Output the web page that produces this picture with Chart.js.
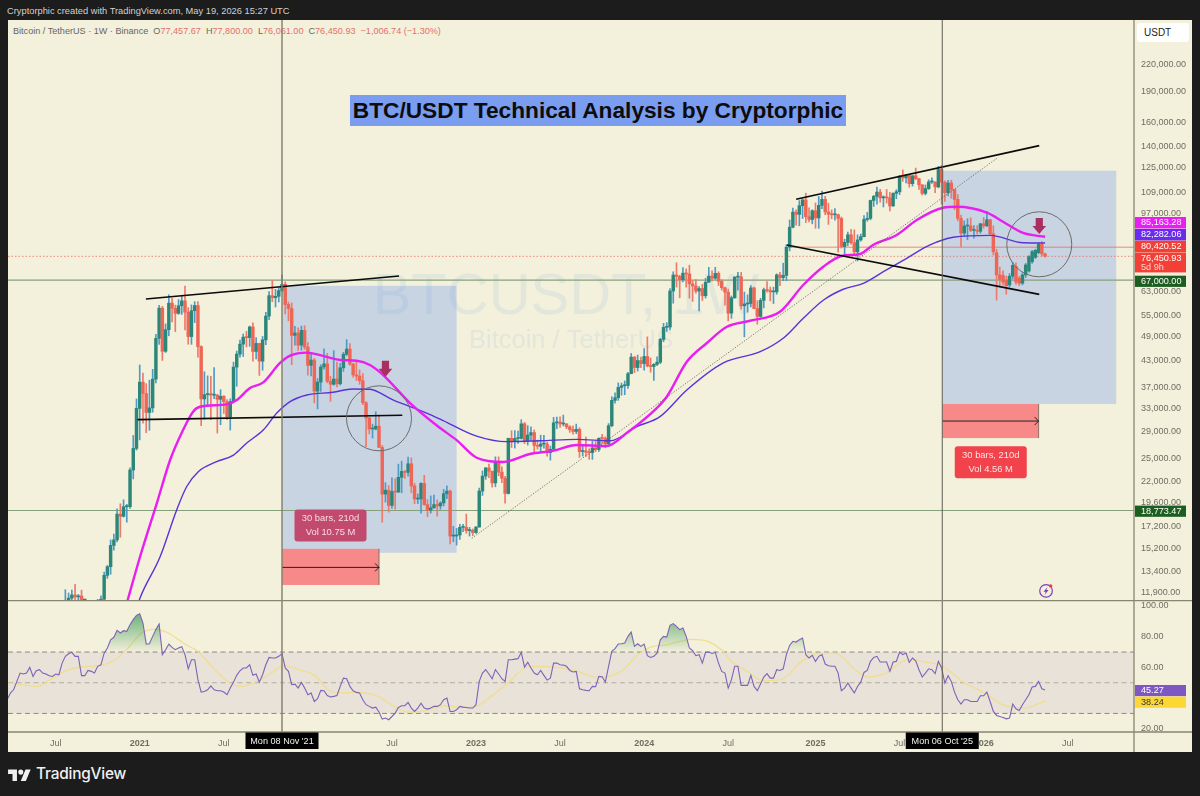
<!DOCTYPE html>
<html>
<head>
<meta charset="utf-8">
<title>BTC/USDT Technical Analysis by Cryptorphic</title>
<script src="https://cdn.jsdelivr.net/npm/chart.js@4/dist/chart.umd.min.js"></script>
<style>
html, body { margin: 0; padding: 0; background: #1c1c1c; width: 1200px; height: 796px; overflow: hidden; font-family: "Liberation Sans", sans-serif; }
#pane { position: absolute; left: 8px; top: 20px; width: 1184px; height: 732px; background: #f3f0db; }
canvas { position: absolute; left: 8px; z-index: 1; }
#head { position: absolute; left: 7px; top: 6px; font-size: 9.3px; color: #d2d2d2; white-space: nowrap; }
#legend { position: absolute; left: 13px; top: 26px; font-size: 9.1px; color: #666; white-space: nowrap; }
#legend b { font-weight: normal; color: #e4716a; margin-right: 5px; }
#title { position: absolute; z-index: 2; left: 350px; top: 95px; width: 496px; height: 31px; line-height: 31px; background: #7b9def; color: #0c0c0c; font-weight: bold; font-size: 22.7px; text-align: center; white-space: nowrap; }
#unit { position: absolute; z-index: 2; left: 1137px; top: 23px; width: 52px; height: 19px; line-height: 19px; background: #fff; border-radius: 3px; color: #222; font-size: 10px; text-indent: 7px; }
#logo { position: absolute; left: 8px; top: 767px; }
#brand { position: absolute; left: 36px; top: 764px; color: #f0f0f0; font-family: Inter, sans-serif; font-size: 15.4px; font-weight: 500; letter-spacing: -.2px; }
</style>
</head>
<body>
<div id="pane"></div>
<div id="head">Cryptorphic created with TradingView.com, May 19, 2026 15:27 UTC</div>
<div id="legend">Bitcoin / TetherUS · 1W · Binance &nbsp;O<b>77,457.67</b>H<b>77,800.00</b>L<b>76,061.00</b>C<b>76,450.93</b><b>−1,006.74 (−1.30%)</b></div>
<canvas id="chartPrice" width="1184" height="580" style="top:20px"></canvas>
<canvas id="chartRsi" width="1184" height="152" style="top:600px"></canvas>
<div id="title">BTC/USDT Technical Analysis by Cryptorphic</div>
<div id="unit">USDT</div>
<svg id="logo" width="23" height="14" viewBox="0 0 36 22"><path fill="#f0f0f0" d="M14 22H7V11H0V4h14v18zM28 22h-8l7.5-18h8L28 22z"/><circle fill="#f0f0f0" cx="20" cy="8" r="4"/></svg>
<div id="brand">TradingView</div>

<script>
"use strict";

// ---- Weekly candles, index 0 = Mon 27 Jul 2020 ----
const candleOpen = [
    9930,11050,11570,11770,11650,11710,10280,10330,11080,10770,
    10680,11370,11500,13120,13760,15480,15960,18400,18180,19170,
    19170,23480,26450,33000,38150,35830,32260,33090,38800,48580,
    57410,45240,50970,59020,57350,55780,58200,59770,56150,49070,
    56610,58240,46430,34770,35600,35800,35500,35500,34700,35290,
    34250,31520,34260,41460,44550,47060,48900,48800,51750,45200,
    47250,42850,48200,54950,61500,60850,61300,63270,65500,58600,
    57300,49400,50050,46800,50800,46300,41860,43100,36300,38150,
    41500,42200,38350,37700,38800,37800,41300,44500,45800,42150,
    39700,39450,38450,34050,31300,29450,29450,29900,26600,20550,
    21000,19300,20850,20780,22550,23300,23170,24300,21500,20000,
    20000,21800,19400,18800,19050,19400,19250,19570,20600,20900,
    16300,16300,16400,17100,17100,16800,16830,16620,17130,20900,
    22700,23750,23320,21860,24600,23200,22430,20630,27970,27480,
    27940,27950,30300,27590,28480,28870,26900,26770,27100,27100,
    25850,26330,30470,30600,30280,30300,29800,29350,29050,29400,
    26000,26100,25900,25850,26530,26300,27970,27950,27150,29990,
    34500,35000,37050,37400,37450,39970,43800,41350,42980,42280,
    43950,41700,41600,42100,42600,48300,51650,51730,63100,68950,
    68400,67200,69650,69350,65650,64900,63100,64000,61480,66250,
    68500,67750,69600,66600,64250,62700,55850,60800,68150,68250,
    58150,58750,58900,64200,57300,54850,59950,63550,63300,62800,
    62800,69000,67950,68800,80400,89800,97600,96400,101100,104400,
    95150,93700,98350,94500,101300,104700,97700,96450,96150,96250,
    94250,80700,82600,86100,82400,78350,83700,85200,93750,94300,
    104100,106450,109000,105600,105700,105600,101000,108300,109200,119100,
    117900,119400,114200,119300,117400,113500,108250,111150,115300,115300,
    112200,123500,115100,108650,114600,110600,104700,94300,86900,90400,
    90400,88200,88300,87800,91500,90500,93600,86600,78000,69000,
    68800,67000,65250,68500,72300,67700,65900,69000,70500,74200,
    76000,78000,81700,77457.67
];
const candleHigh = [
    12120,11900,12100,12490,11800,12090,10580,11180,11180,10950,
    11490,11720,13350,13860,15960,16480,18950,19480,19920,19420,
    23770,28420,34780,41950,40100,37850,38570,40950,49700,58350,
    58000,52640,61840,60600,58400,60200,61300,64850,57570,58460,
    59500,59500,46640,40400,39500,39380,41330,35700,36600,35400,
    34660,34800,42600,45300,48150,49780,50500,52000,52920,48800,
    47300,49100,56100,62900,67000,63700,64270,69000,66400,59400,
    59100,51950,51500,52000,52100,47500,44500,43500,38900,42000,
    45850,44750,39400,45400,42600,42300,45000,48250,47200,42400,
    42950,40800,40000,34250,31400,30250,32400,31800,26900,21900,
    21550,22500,22350,24250,24650,23450,25200,25100,21800,20580,
    21900,22800,19950,20350,20450,19900,19700,21100,21500,21000,
    17200,17000,17400,17400,18400,17100,16950,17180,21250,23370,
    23800,24250,23350,25250,25250,23900,22670,28000,29180,29200,
    29100,31000,30550,30000,29800,29300,27700,28450,28450,27400,
    26800,31400,31450,31500,31800,30350,30000,29980,30250,29650,
    26800,28150,26400,27500,27500,28050,28600,28200,30350,35200,
    35950,38000,37950,38400,40250,44700,44000,44300,43800,45900,
    49000,43600,42250,43900,48600,52800,53000,64000,70200,73780,
    68900,71800,71300,72800,66900,67200,64700,65500,67700,71950,
    70600,71950,70200,67200,64500,63800,61400,68350,70000,70000,
    62750,61800,65000,64500,59800,60650,64150,66500,64500,64500,
    69400,70000,73600,81500,93450,99800,98800,104000,105000,108350,
    99950,98900,102700,106400,109600,106500,102500,98800,99500,96500,
    95000,84000,87450,88800,88500,86100,86500,95800,97450,104350,
    107100,112000,110700,106800,110600,108900,108500,110500,119500,123200,
    120250,119800,119400,124500,117600,113500,113400,116700,117900,115400,
    125700,126200,116000,116400,116400,110800,107500,96000,93000,94100,
    94600,90600,90600,91800,94800,97900,93800,90500,79500,72000,
    70600,68500,69500,74000,73800,68500,69800,73500,76800,79000,
    79500,82500,83000,77800
];
const candleLow = [
    9880,10950,11120,11280,11120,9800,9820,10200,10130,10370,
    10530,11180,11410,12900,13200,15080,15770,16190,18100,17600,
    19000,22350,26200,27730,30420,28850,29240,32300,37990,47000,
    43000,44950,49280,53200,50430,55500,55470,50930,47050,47000,
    53000,43820,30000,31100,33380,31000,34800,28800,30150,32080,
    31020,29280,34000,37300,43800,43950,46370,46500,42840,43400,
    39600,40750,46900,53900,59500,57800,59400,62800,55600,53500,
    42000,46800,45450,45500,45700,39650,39500,34000,32900,36250,
    41000,38000,34300,37500,37150,37550,40500,44200,41870,39200,
    38500,37700,33700,26700,28650,28000,29300,26550,17600,19650,
    18600,19000,18900,20750,20700,22400,22700,20700,19500,19500,
    18500,19300,18150,18500,19000,18200,18900,19250,20050,15600,
    15800,15500,16000,16700,16550,16300,16330,16530,17130,20400,
    22300,22500,21350,21400,22750,21900,19550,20550,26600,26500,
    27200,27850,27150,26950,27650,25800,26350,25900,26500,25350,
    24800,26300,29500,29700,29950,29500,28900,28600,28700,25170,
    25350,25300,24900,24900,26000,26000,27150,26550,26950,29800,
    33950,34500,35500,35600,36850,39950,40200,40550,41300,40750,
    41500,40300,38500,41800,42250,47700,50500,50900,59000,64500,
    60800,66400,64500,60660,59600,62400,56550,59900,60700,66200,
    66700,67300,65050,63400,58400,53500,54250,60600,63400,57100,
    49000,56150,57800,57200,52550,54600,57500,62700,59800,58900,
    62000,65000,66800,66800,78800,89400,90800,90500,94200,92100,
    92500,91500,89250,89250,99500,96200,91200,94100,93400,78250,
    80000,76600,81100,81600,77000,74500,83100,85100,92800,93500,
    100700,102000,103100,100400,102600,98200,100700,105100,107500,115700,
    114700,112000,112650,116800,110700,107300,107300,110600,114400,108600,
    111600,102000,103500,106700,105300,98900,93000,80600,85250,83800,
    87600,84500,86400,86800,89300,90000,86000,77000,60000,65000,
    65200,62000,64500,67500,65500,65000,65300,68000,70000,73500,
    75500,77500,76500,76061
];
const candleClose = [
    11050,11570,11770,11650,11710,10280,10330,11080,10770,10680,
    11370,11500,13120,13760,15480,15960,18400,18180,19170,19170,
    23480,26450,33000,38150,35830,32260,33090,38800,48580,57410,
    45240,50970,59020,57350,55780,58200,59770,56150,49070,56610,
    58240,46430,34770,35600,35800,35500,35500,34700,35290,34250,
    31520,34260,41460,44550,47060,48900,48800,51750,45200,47250,
    42850,48200,54950,61500,60850,61300,63270,65500,58600,57300,
    49400,50050,46800,50800,46300,41860,43100,36300,38150,41500,
    42200,38350,37700,38800,37800,41300,44500,45800,42150,39700,
    39450,38450,34050,31300,29450,29450,29900,26600,20550,21000,
    19300,20850,20780,22550,23300,23170,24300,21500,20000,20000,
    21800,19400,18800,19050,19400,19250,19570,20600,20900,16300,
    16300,16400,17100,17100,16800,16830,16620,17130,20900,22700,
    23750,23320,21860,24600,23200,22430,20630,27970,27480,27940,
    27950,30300,27590,28480,28870,26900,26770,27100,27100,25850,
    26330,30470,30600,30280,30300,29800,29350,29050,29400,26000,
    26100,25900,25850,26530,26300,27970,27950,27150,29990,34500,
    35000,37050,37400,37450,39970,43800,41350,42980,42280,43950,
    41700,41600,42100,42600,48300,51650,51730,63100,68950,68400,
    67200,69650,69350,65650,64900,63100,64000,61480,66250,68500,
    67750,69600,66600,64250,62700,55850,60800,68150,68250,58150,
    58750,58900,64200,57300,54850,59950,63550,63300,62800,62800,
    69000,67950,68800,80400,89800,97600,96400,101100,104400,95150,
    93700,98350,94500,101300,104700,97700,96450,96150,96250,94250,
    80700,82600,86100,82400,78350,83700,85200,93750,94300,104100,
    106450,109000,105600,105700,105600,101000,108300,109200,119100,117900,
    119400,114200,119300,117400,113500,108250,111150,115300,115300,112200,
    123500,115100,108650,114600,110600,104700,94300,86900,90400,90400,
    88200,88300,87800,91500,90500,93600,86600,78400,69000,67300,
    66300,65000,68500,72700,66300,65900,69000,72900,76300,78400,
    79000,81700,77457.67,76450.93
];

// ---- Moving averages, read at the bends of each curve ----
const fastMaIdx = [18.5,23.1,28.3,32.4,36.4,39.5,41.6,49.9,53,57.1,61.1,66.4,69.5,74.7,80.8,85,90.1,94.2,98.3,106.6,115.9,121,127.2,135.4,143.7,150.8,158.2,167.4,173.6,182.9,186,192.2,198.4,204.6,211.8,221,228.2,234.4,240.1,245.8,249.8,257.1,263.3,271.5,275.7,285,290,296.2,303];
const fastMaVal = [10900,14540,19560,24810,29280,32400,33300,33750,34570,36920,38040,42410,44150,44900,43850,43120,42950,41950,39670,33980,29600,27700,25120,24550,25650,26100,26960,26800,28800,33060,35200,42700,47360,51800,53550,56300,65250,72200,76600,77450,81400,86000,93450,100000,100500,97300,92550,86970,85163.28];
const slowMaIdx = [22,23.1,29.3,34.4,37.5,41.1,46.8,52,56.1,61.2,65.4,69.5,74.7,82.8,88.8,94.2,101.3,111.7,115.9,127.2,136.5,146.8,158.2,168.5,176.7,183.9,192.2,203.5,214.9,222.1,228.3,234.5,240.6,246.8,253,260.2,267.4,274.6,286,296.2,303];
const slowMaVal = [10900,11580,14540,18810,21400,23260,24580,25500,27260,29280,32160,34260,35530,36080,36740,36670,34570,32160,31110,28310,27460,27590,27810,27590,29830,31530,36520,42420,45140,48690,54360,60060,63730,65870,70220,75610,81400,84920,85840,82410,82282.06];

// ---- RSI, one value per week from index -18 ----
const rsiStart = -18;
const rsiValues = [
    38.9,43.3,45.4,50.9,56.3,55.7,56.3,60,54.1,57.8,
    58.5,56.3,55.7,54.6,54.1,55.7,55.2,62.8,67.2,68.9,
    69.8,67.2,67.2,54.6,54.6,58,57.4,56.3,60.7,61.7,
    69.3,72.6,78,79.6,84.1,82.4,83.9,83.5,87.8,91.1,
    93.9,95,88.9,75.2,75.4,80.2,84.6,88.3,68.3,71.5,
    75.2,73,71.5,72.6,73.5,68.3,59.1,65,65,52,
    43.9,44.3,45.4,48,45.4,44.8,44.8,43.9,42.2,46.5,
    50.4,54.8,57.8,59.6,59.6,61.7,54.8,55.7,50.4,55.2,
    61.7,66.5,66.1,66.1,67.2,68.9,59.6,57.4,48.7,49.1,
    46.5,50.2,46.5,42.2,43.3,37.8,39.6,45,44.8,41.7,
    40.7,41.1,41.7,47.6,53,52.6,47.6,44.8,43.7,
    43.3,38.9,35.7,34.6,33.5,34.1,30.9,26.3,27,25.9,
    28,30.2,33.9,35,35,37.2,33.5,31.3,33.5,36.7,
    33.5,32.8,33.5,34.6,34.6,35.7,38.9,40,31.3,31.3,
    32.4,34.6,34.1,33.9,33.5,33.5,35.7,50.9,56.3,58.5,
    55.7,52.6,58.5,55.7,52.6,50.9,65,65,65.4,65.7,
    69.8,60.2,63.3,59.6,56.3,55.2,58,54.8,51.7,53,
    62.8,62.8,61.7,61.5,60.7,58,57,57.4,46.1,45.4,
    45,44.8,47.6,47.4,54.1,53.9,50.4,60.7,70.4,72.2,
    75.2,75.4,75.9,80.2,83,73.7,75.4,73.7,75.2,67.6,
    66.5,67.2,69.3,78,80.2,79.8,87.4,88.5,86.7,84.6,
    85.7,80.2,72.6,70.9,67.6,68.3,62.8,69.8,
    70,69.1,69.8,62.8,57.4,56.3,46.5,52,60.7,60.7,
    48.3,48.3,48.3,54.8,47.6,44.8,49.1,53.7,55.9,53,
    53,58.5,58,59.1,68.3,74.3,77,76.5,78,79.1,
    68.3,66.1,67.8,63.9,67.2,68.3,62.2,61.1,60.7,60.7,
    56.3,44.8,46.5,49.8,46.5,43.3,47.6,50.4,56.7,58,
    63.9,66.5,67.2,63.5,63.5,63.5,57.4,63.5,63.9,70,
    68.3,69.3,63.3,66.1,64.3,58.5,53.7,56.3,59.1,58.5,
    55.9,63.9,59.6,49.8,54.6,50.9,43.9,38.9,36.1,38.9,
    38.9,37.8,37.8,37.8,41.5,41.5,43.9,37.8,31.3,28.7,
    28,27.4,26.5,27,36.1,33,31.9,35.7,38.9,42.2,
    47.2,47.6,50.9,46.1,45.27
];
const rsiMaIdx = [-18,-12.5,-8.4,-5.3,-0.2,5,10.1,15.3,19.4,23.5,27.7,31.8,36.9,41,46.2,50.8,54.5,59.6,63.7,67.3,73,77.1,81.3,85.4,90.5,96.7,100.8,106,111.1,117.3,123.5,126.6,131.7,136.9,142,145.1,151.3,157.5,164.7,171.9,177.1,181.2,186.4,193.6,198.7,202.9,206,210.1,215.8,221.5,227.7,233.9,238,244.2,248.3,253.4,260.7,265.8,271,278.2,284.4,289.5,296.7,303];
const rsiMaVal = [49.8,48.5,47.6,51.3,57.4,60.4,61,65,72.6,82.4,84.8,82.4,75.2,70.4,58.5,49.8,47.6,51.3,56.3,61,58,54.8,45.4,43.3,43.7,41.1,35.7,30.9,31.7,35,33.9,34.3,41.1,49.8,59.6,60.7,60.2,58,53.5,57.4,68.3,73.3,74.8,78.3,77,71.5,63.9,58.5,51.3,52,63.9,69.3,69.3,58.5,53.7,55.9,65,63.5,61,49.8,43.3,36.1,33.5,38.24];

// ---- Axis ticks ----
const priceTicks = [220000,190000,160000,140000,125000,109000,97000,63000,55000,49000,43000,37000,33000,29000,25000,22000,19600,17200,15200,13400,11900];
const rsiTicks = [100,80,60,20];
const rsiLevels = [70,50,30];
const timeTickIdx = [-3,23,49,75,101,127,153,179,205,232,258,284,310];
const timeTickLabels = ["Jul","2021","Jul","2022","Jul","2023","Jul","2024","Jul","2025","Jul","2026","Jul"];

// ---- Drawings on the chart, in week index and price ----
const crossIdx = [67, 271.2];
const crossLabels = ["Mon 08 Nov '21", "Mon 06 Oct '25"];
const rangeBoxes = [[67,121,64950,14860],[271.2,325,122700,33810]];
const redBoxes = [[67,97,15190,12440,13710],[271.2,301,33810,28010,30770]];
const trendLines = [[24.9,60390,103.2,68570],[22.3,31000,104.2,31770],[226,104770,301.2,140870],[223.1,81380,301.2,61970]];
const dottedTrend = [125.7,16100,288.1,131400];
const supportLevels = [67000, 18773.47];
const lastPrice = 76450.93;
const weeklyOpenLevel = 80420.52;
const circleMarks = [[97,31240],[301.2,81700]];
const downArrows = [[99,42950],[301.2,94490]];
const statLabels = [
    { idx: 82, price: 17290, lines: ["30 bars, 210d", "Vol 10.75 M"], fill: "#c24a6e", ink: "#f8dde2" },
    { idx: 286.2, price: 24490, lines: ["30 bars, 210d", "Vol 4.56 M"], fill: "#f2434c", ink: "#fde4e2" },
];
const priceTags = [
    { value: 85163.28, top: 217, h: 11.5, fill: "#e620f2", ink: "#fff" },
    { value: 82282.06, top: 229, h: 11.5, fill: "#6a2bf0", ink: "#fff" },
    { value: 80420.52, top: 240.8, h: 11.5, fill: "#f43f36", ink: "#fff" },
    { value: 76450.93, top: 252.6, h: 19.8, fill: "#f43f36", ink: "#fff", sub: "5d 9h" },
    { value: 67000, top: 275.7, h: 11.2, fill: "#1b5e20", ink: "#fff" },
    { value: 18773.47, top: 505.6, h: 11.2, fill: "#1b5e20", ink: "#fff" },
];
const rsiTags = [
    { value: 45.27, top: 85, h: 11.2, fill: "#7e57c2", ink: "#fff" },
    { value: 38.24, top: 96.6, h: 11.2, fill: "#fdd835", ink: "#333" },
];

const COLORS = {
    upBody: "#2c8778",
    upWick: "#4f9bc6",
    downBody: "#ee6656",
    downWick: "#ee7a69",
    fastMa: "#e81ff0",
    slowMa: "#5a32d8",
    rsi: "#7e62b8",
    rsiMa: "#f0de8e",
    axisText: "#6f6e62",
    axisLine: "#87866f",
    support: "#86a07c",
    range: "#c9d4e3",
    band: "#e8e2d8",
};

const X_MIN = -17.74;
const X_MAX = 330.5;
const AXIS_WIDTH = 58;
const TICK_FONT = { family: "'Liberation Sans', sans-serif", size: 9 };

const fmt = (v) => v.toLocaleString("en-US", { minimumFractionDigits: 2, maximumFractionDigits: 2 });

function fitYAxis(scale) {
    scale.width = AXIS_WIDTH;
    scale.paddingTop = 0;
    scale.paddingBottom = 0;
}

function drawTags(ctx, x, tags) {
    ctx.textAlign = "left";
    ctx.textBaseline = "middle";
    tags.forEach(function (t) {
        ctx.fillStyle = t.fill;
        ctx.fillRect(x + 1, t.top, 51, t.h);
        ctx.fillStyle = t.ink;
        ctx.font = "9.1px 'Liberation Sans', sans-serif";
        ctx.fillText(fmt(t.value), x + 7, t.top + (t.sub ? 5.6 : t.h / 2));
        if (t.sub) {
            ctx.fillStyle = "#fbd3cf";
            ctx.fillText(t.sub, x + 7, t.top + 14.6);
        }
    });
}

function drawCrossLines(chart) {
    const { ctx, scales, chartArea } = chart;
    crossIdx.forEach(function (idx, n) {
        const x = scales.x.getPixelForValue(idx);
        ctx.strokeStyle = n === 0 ? "#7f7d69" : "#5f5e55";
        ctx.lineWidth = n === 0 ? 1.4 : 1;
        ctx.beginPath();
        ctx.moveTo(x, chartArea.top);
        ctx.lineTo(x, chartArea.bottom);
        ctx.stroke();
    });
}

// ---- Everything under the candles on the price pane ----
const priceBackdrop = {
    id: "priceBackdrop",
    beforeDatasetsDraw(chart) {
        const { ctx, scales, chartArea } = chart;
        const px = (i) => scales.x.getPixelForValue(i);
        const py = (p) => scales.y.getPixelForValue(p);
        ctx.save();

        rangeBoxes.forEach(function (b) {
            ctx.fillStyle = COLORS.range;
            ctx.fillRect(px(b[0]), py(b[2]), px(b[1]) - px(b[0]), py(b[3]) - py(b[2]));
        });

        // watermark
        ctx.textAlign = "center";
        ctx.textBaseline = "middle";
        ctx.fillStyle = "rgba(90,150,215,.10)";
        ctx.font = "58px 'Liberation Sans', sans-serif";
        ctx.fillText("BTCUSDT, 1W", 558, 278);
        ctx.font = "25.5px 'Liberation Sans', sans-serif";
        ctx.fillText("Bitcoin / TetherUS", 563, 321);

        // horizontal levels
        ctx.lineWidth = 1.2;
        ctx.strokeStyle = COLORS.support;
        supportLevels.forEach(function (level) {
            ctx.beginPath();
            ctx.moveTo(chartArea.left, py(level));
            ctx.lineTo(chartArea.right, py(level));
            ctx.stroke();
        });
        ctx.lineWidth = 1;
        ctx.strokeStyle = "rgba(232,100,90,.75)";
        ctx.beginPath();
        ctx.moveTo(px(224), py(weeklyOpenLevel));
        ctx.lineTo(chartArea.right, py(weeklyOpenLevel));
        ctx.stroke();
        ctx.setLineDash([1.5, 2]);
        ctx.beginPath();
        ctx.moveTo(chartArea.left, py(lastPrice));
        ctx.lineTo(chartArea.right, py(lastPrice));
        ctx.stroke();
        ctx.setLineDash([]);

        // measured-move boxes
        redBoxes.forEach(function (b) {
            ctx.fillStyle = "#f78a88";
            ctx.fillRect(px(b[0]), py(b[2]), px(b[1]) - px(b[0]), py(b[3]) - py(b[2]));
            ctx.strokeStyle = "#8d6f68";
            ctx.beginPath();
            ctx.moveTo(px(b[1]), py(b[2]));
            ctx.lineTo(px(b[1]), py(b[3]));
            ctx.stroke();
            ctx.strokeStyle = "#222";
            ctx.beginPath();
            ctx.moveTo(px(b[0]), py(b[4]));
            ctx.lineTo(px(b[1]), py(b[4]));
            ctx.moveTo(px(b[1]) - 4, py(b[4]) - 4);
            ctx.lineTo(px(b[1]), py(b[4]));
            ctx.lineTo(px(b[1]) - 4, py(b[4]) + 4);
            ctx.stroke();
        });
        ctx.restore();
    },
    afterDatasetsDraw(chart) {
        const { ctx, scales } = chart;
        const px = (i) => scales.x.getPixelForValue(i);
        const py = (p) => scales.y.getPixelForValue(p);
        ctx.save();

        // dotted long-term trend
        ctx.strokeStyle = "#55554c";
        ctx.lineWidth = 0.8;
        ctx.setLineDash([1.2, 1.6]);
        ctx.beginPath();
        ctx.moveTo(px(dottedTrend[0]), py(dottedTrend[1]));
        ctx.lineTo(px(dottedTrend[2]), py(dottedTrend[3]));
        ctx.stroke();
        ctx.setLineDash([]);

        // solid black trend lines
        ctx.strokeStyle = "#0b0b0b";
        ctx.lineWidth = 1.7;
        trendLines.forEach(function (t) {
            ctx.beginPath();
            ctx.moveTo(px(t[0]), py(t[1]));
            ctx.lineTo(px(t[2]), py(t[3]));
            ctx.stroke();
        });

        // circles
        ctx.strokeStyle = "#6d6d68";
        ctx.lineWidth = 1;
        circleMarks.forEach(function (c) {
            ctx.beginPath();
            ctx.arc(px(c[0]), py(c[1]), 32.5, 0, Math.PI * 2);
            ctx.stroke();
        });

        // maroon down arrows
        ctx.fillStyle = "#a82f60";
        downArrows.forEach(function (a) {
            const x = px(a[0]);
            const y = py(a[1]);
            ctx.beginPath();
            ctx.moveTo(x - 3.6, y);
            ctx.lineTo(x + 3.6, y);
            ctx.lineTo(x + 3.6, y + 8);
            ctx.lineTo(x + 6.8, y + 8);
            ctx.lineTo(x, y + 16);
            ctx.lineTo(x - 6.8, y + 8);
            ctx.lineTo(x - 3.6, y + 8);
            ctx.closePath();
            ctx.fill();
        });

        // stat labels
        ctx.textAlign = "center";
        ctx.textBaseline = "middle";
        statLabels.forEach(function (s) {
            const x = px(s.idx);
            const y = py(s.price);
            ctx.fillStyle = s.fill;
            ctx.beginPath();
            ctx.roundRect(x - 36, y - 16, 72, 32, 3);
            ctx.fill();
            ctx.fillStyle = s.ink;
            ctx.font = "9.4px 'Liberation Sans', sans-serif";
            ctx.fillText(s.lines[0], x, y - 7);
            ctx.fillText(s.lines[1], x, y + 7.5);
        });

        // alert icon near the last bar
        const ix = px(303.3);
        const iy = py(12040);
        ctx.strokeStyle = "#7a3fb5";
        ctx.lineWidth = 1.2;
        ctx.beginPath();
        ctx.arc(ix, iy, 6.3, 0, Math.PI * 2);
        ctx.stroke();
        ctx.fillStyle = "#7a3fb5";
        ctx.beginPath();
        ctx.moveTo(ix + 1.5, iy - 4);
        ctx.lineTo(ix - 2.5, iy + 0.8);
        ctx.lineTo(ix - 0.3, iy + 0.8);
        ctx.lineTo(ix - 1.5, iy + 4);
        ctx.lineTo(ix + 2.5, iy - 0.8);
        ctx.lineTo(ix + 0.3, iy - 0.8);
        ctx.closePath();
        ctx.fill();
        ctx.fillStyle = "#f0384a";
        ctx.beginPath();
        ctx.arc(ix + 4.6, iy - 5, 1.7, 0, Math.PI * 2);
        ctx.fill();

        drawCrossLines(chart);
        ctx.restore();
    },
    afterDraw(chart) {
        const { ctx, chartArea } = chart;
        ctx.save();
        ctx.strokeStyle = COLORS.axisLine;
        ctx.lineWidth = 1.3;
        ctx.beginPath();
        ctx.moveTo(chartArea.right, chartArea.top);
        ctx.lineTo(chartArea.right, chartArea.bottom);
        ctx.stroke();
        drawTags(ctx, chartArea.right, priceTags.map((t) => Object.assign({}, t, { top: t.top - 20 })));
        ctx.restore();
    },
};

// ---- RSI pane: band, levels, crosshair labels, value tags ----
const rsiBackdrop = {
    id: "rsiBackdrop",
    beforeDatasetsDraw(chart) {
        const { ctx, scales, chartArea } = chart;
        const py = (v) => scales.y.getPixelForValue(v);
        ctx.save();
        ctx.fillStyle = COLORS.band;
        ctx.fillRect(chartArea.left, py(rsiLevels[0]), chartArea.width, py(rsiLevels[2]) - py(rsiLevels[0]));
        ctx.strokeStyle = "#8f897c";
        ctx.lineWidth = 1;
        ctx.setLineDash([5, 3.5]);
        rsiLevels.forEach(function (level, n) {
            ctx.globalAlpha = n === 1 ? 0.6 : 1;
            ctx.beginPath();
            ctx.moveTo(chartArea.left, py(level));
            ctx.lineTo(chartArea.right, py(level));
            ctx.stroke();
        });
        ctx.restore();
    },
    afterDatasetsDraw(chart) {
        const { ctx } = chart;
        ctx.save();
        drawCrossLines(chart);
        ctx.restore();
    },
    afterDraw(chart) {
        const { ctx, scales, chartArea, width, height } = chart;
        ctx.save();
        ctx.strokeStyle = COLORS.axisLine;
        ctx.lineWidth = 1.3;
        ctx.beginPath();
        ctx.moveTo(chartArea.left, 0.5);
        ctx.lineTo(width, 0.5);
        ctx.moveTo(chartArea.left, chartArea.bottom);
        ctx.lineTo(width, chartArea.bottom);
        ctx.moveTo(chartArea.right, 0);
        ctx.lineTo(chartArea.right, height);
        ctx.stroke();

        ctx.textAlign = "center";
        ctx.textBaseline = "middle";
        ctx.font = "9.1px 'Liberation Sans', sans-serif";
        crossIdx.forEach(function (idx, n) {
            const x = scales.x.getPixelForValue(idx);
            ctx.fillStyle = "#000";
            ctx.fillRect(x - 36.5, chartArea.bottom + 0.5, 73, 16.5);
            ctx.fillStyle = "#f2f2f2";
            ctx.fillText(crossLabels[n], x, chartArea.bottom + 9.5);
        });
        drawTags(ctx, chartArea.right, rsiTags);
        ctx.restore();
    },
};

function candleColors(up, down) {
    return candleClose.map((c, i) => (c >= candleOpen[i] ? up : down));
}

function initPriceChart() {
    new Chart(document.getElementById("chartPrice"), {
        type: "bar",
        data: {
            datasets: [
                {
                    type: "line",
                    data: fastMaIdx.map((x, i) => ({ x, y: fastMaVal[i] })),
                    borderColor: COLORS.fastMa,
                    borderWidth: 2.4,
                    pointRadius: 0,
                    cubicInterpolationMode: "monotone",
                    order: 0,
                },
                {
                    type: "line",
                    data: slowMaIdx.map((x, i) => ({ x, y: slowMaVal[i] })),
                    borderColor: COLORS.slowMa,
                    borderWidth: 1.4,
                    pointRadius: 0,
                    cubicInterpolationMode: "monotone",
                    order: 0,
                },
                {
                    data: candleOpen.map((o, i) => ({ x: i, y: [o, candleClose[i]] })),
                    backgroundColor: candleColors(COLORS.upBody, COLORS.downBody),
                    barThickness: 2.8,
                    minBarLength: 1,
                    grouped: false,
                    order: 1,
                },
                {
                    data: candleLow.map((l, i) => ({ x: i, y: [l, candleHigh[i]] })),
                    backgroundColor: candleColors(COLORS.upWick, COLORS.downWick),
                    barThickness: 1,
                    grouped: false,
                    order: 2,
                },
            ],
        },
        options: {
            responsive: false,
            animation: false,
            layout: { padding: 0 },
            plugins: { legend: { display: false }, tooltip: { enabled: false } },
            scales: {
                x: { type: "linear", display: false, min: X_MIN, max: X_MAX, offset: false },
                y: {
                    type: "logarithmic",
                    position: "right",
                    min: 11449,
                    max: 282100,
                    bounds: "data",
                    grid: { display: false, drawTicks: false },
                    border: { display: false },
                    afterBuildTicks(scale) {
                        scale.ticks = priceTicks.map((value) => ({ value }));
                    },
                    afterFit: fitYAxis,
                    ticks: {
                        autoSkip: false,
                        padding: 7,
                        color: COLORS.axisText,
                        font: TICK_FONT,
                        callback: (v) => fmt(v),
                    },
                },
            },
        },
        plugins: [priceBackdrop],
    });
}

function initRsiChart() {
    const el = document.getElementById("chartRsi");
    const overbought = el.getContext("2d").createLinearGradient(0, 6, 0, 52);
    overbought.addColorStop(0, "rgba(50,150,80,.85)");
    overbought.addColorStop(1, "rgba(50,150,80,0)");

    new Chart(el, {
        type: "line",
        data: {
            datasets: [
                {
                    data: rsiValues.map((y, i) => ({ x: rsiStart + i, y })),
                    borderColor: COLORS.rsi,
                    borderWidth: 1.1,
                    pointRadius: 0,
                    fill: { value: rsiLevels[0], above: overbought, below: "rgba(0,0,0,0)" },
                },
                {
                    data: rsiMaIdx.map((x, i) => ({ x, y: rsiMaVal[i] })),
                    borderColor: COLORS.rsiMa,
                    borderWidth: 1.3,
                    pointRadius: 0,
                    cubicInterpolationMode: "monotone",
                },
            ],
        },
        options: {
            responsive: false,
            animation: false,
            layout: { padding: 0 },
            plugins: { legend: { display: false }, tooltip: { enabled: false } },
            scales: {
                x: {
                    type: "linear",
                    min: X_MIN,
                    max: X_MAX,
                    grid: { display: false, drawTicks: false },
                    border: { display: false },
                    afterBuildTicks(scale) {
                        scale.ticks = timeTickIdx.map((value) => ({ value }));
                    },
                    afterFit(scale) {
                        scale.height = 20;
                        scale.paddingLeft = 0;
                        scale.paddingRight = 0;
                    },
                    ticks: {
                        autoSkip: false,
                        maxRotation: 0,
                        padding: 6,
                        color: COLORS.axisText,
                        font: (c) => ({
                            family: TICK_FONT.family,
                            size: TICK_FONT.size,
                            weight: timeTickLabels[timeTickIdx.indexOf(c.tick && c.tick.value)] === "Jul" ? "normal" : "bold",
                        }),
                        callback: (v) => timeTickLabels[timeTickIdx.indexOf(v)],
                    },
                },
                y: {
                    position: "right",
                    min: 17.9,
                    max: 103.9,
                    bounds: "data",
                    grid: { display: false, drawTicks: false },
                    border: { display: false },
                    afterBuildTicks(scale) {
                        scale.ticks = rsiTicks.map((value) => ({ value }));
                    },
                    afterFit: fitYAxis,
                    ticks: {
                        autoSkip: false,
                        padding: 7,
                        color: COLORS.axisText,
                        font: TICK_FONT,
                        callback: (v) => fmt(v),
                    },
                },
            },
        },
        plugins: [rsiBackdrop],
    });
}

initPriceChart();
initRsiChart();
</script>
</body>
</html>
